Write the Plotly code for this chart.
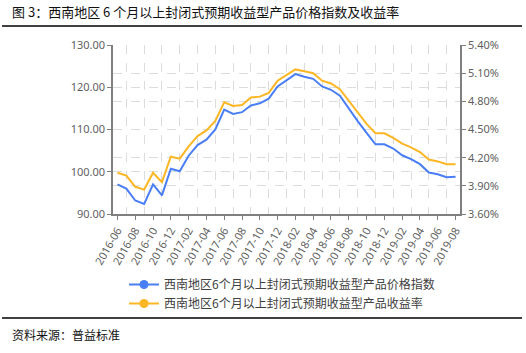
import plotly.graph_objects as go
import pandas as pd

months = [d.strftime("%Y-%m") for d in pd.date_range("2016-06-01", "2019-08-01", freq="MS")]

price_index = [97.0, 96.0, 93.2, 92.4, 97.0, 94.4, 100.7, 100.1, 103.8, 106.3,
               107.6, 110.0, 114.7, 113.7, 114.1, 115.7, 116.2, 117.3, 120.2, 121.6,
               123.1, 122.5, 122.0, 120.2, 119.4, 118.0, 114.9, 112.0, 109.2, 106.5,
               106.5, 105.5, 103.9, 103.0, 101.8, 99.8, 99.4, 98.7, 98.8]
yield_rate = [4.04, 4.01, 3.89, 3.86, 4.04, 3.94, 4.21, 4.19, 4.32, 4.43,
              4.49, 4.59, 4.79, 4.75, 4.76, 4.84, 4.85, 4.89, 5.02, 5.08,
              5.14, 5.12, 5.10, 5.02, 4.99, 4.93, 4.81, 4.68, 4.56, 4.46,
              4.46, 4.41, 4.35, 4.31, 4.26, 4.18, 4.16, 4.13, 4.13]

name_index = "西南地区6个月以上封闭式预期收益型产品价格指数"
name_yield = "西南地区6个月以上封闭式预期收益型产品收益率"
title_text = "图 3：西南地区 6 个月以上封闭式预期收益型产品价格指数及收益率"
source_text = "资料来源：普益标准"

BLUE = "#4a7ef4"
ORANGE = "#fdb624"
W, H = 526, 353
L, R, T, B = 113, 66, 45, 139
PW, PH = W - L - R, H - T - B

def px(x):
    return (x - L) / PW

def py(y):
    return (H - B - y) / PH

xi = list(range(len(months)))
tick_idx = xi[::2]

fig = go.Figure()
fig.add_trace(go.Scatter(x=xi, y=price_index, mode="lines", name=name_index,
                         line=dict(color=BLUE, width=2), showlegend=False, yaxis="y"))
fig.add_trace(go.Scatter(x=xi, y=yield_rate, mode="lines", name=name_yield,
                         line=dict(color=ORANGE, width=2), showlegend=False, yaxis="y2"))
# legend entries
fig.add_trace(go.Scatter(x=[None], y=[None], mode="lines+markers", name=name_index,
                         line=dict(color=BLUE, width=2), marker=dict(size=9, color=BLUE)))
fig.add_trace(go.Scatter(x=[None], y=[None], mode="lines+markers", name=name_yield,
                         line=dict(color=ORANGE, width=2), marker=dict(size=9, color=ORANGE)))

grid = dict(gridcolor="#dcdcdc", griddash="dash", gridwidth=1)
axis_font = dict(family="Noto Sans, Open Sans, sans-serif", size=11, color="#5f5f5f")

fig.update_layout(
    width=W, height=H,
    margin=dict(l=L, r=R, t=T, b=B),
    paper_bgcolor="white", plot_bgcolor="white",
    xaxis=dict(range=[-0.5, len(months) - 0.5], tickvals=tick_idx,
               ticktext=[months[i] for i in tick_idx], tickangle=-60,
               tickfont=axis_font, showgrid=False, zeroline=False,
               showline=True, linecolor="#7f7f7f", linewidth=1.5,
               ticks="outside", ticklen=4, tickcolor="#7f7f7f",
               minor=dict(tick0=1, dtick=2, showgrid=True, ticks="", **grid)),
    yaxis=dict(range=[90, 130], dtick=10, tickformat=".2f", tickfont=axis_font,
               showgrid=True, **grid, zeroline=False,
               showline=True, linecolor="#7f7f7f", linewidth=1.5,
               ticks="outside", ticklen=4, tickcolor="#7f7f7f"),
    yaxis2=dict(range=[3.6, 5.4], tick0=3.6, dtick=0.3, tickformat=".2f", ticksuffix="%",
                tickfont=axis_font, overlaying="y", side="right",
                showgrid=True, **grid, zeroline=False,
                showline=True, linecolor="#7f7f7f", linewidth=1.5,
                ticks="outside", ticklen=4, tickcolor="#7f7f7f"),
    legend=dict(x=px(124), y=py(270), xanchor="left", yanchor="top",
                font=dict(family="Noto Sans CJK SC", size=12, color="#404040"),
                bgcolor="rgba(0,0,0,0)", tracegroupgap=0, itemwidth=30),
    showlegend=True,
    font=dict(family="Noto Sans CJK SC"),
)

fig.add_annotation(text=title_text, x=px(10), y=py(11), xref="paper", yref="paper",
                   xanchor="left", yanchor="middle", showarrow=False,
                   font=dict(family="Noto Sans CJK SC", size=13, color="#111111"))
fig.add_annotation(text=source_text, x=px(10), y=py(334), xref="paper", yref="paper",
                   xanchor="left", yanchor="middle", showarrow=False,
                   font=dict(family="Noto Sans CJK SC", size=12, color="#111111"))
fig.add_shape(type="line", xref="paper", yref="paper", x0=px(2), x1=px(522),
              y0=py(26), y1=py(26), line=dict(color="black", width=1.5))
fig.add_shape(type="line", xref="paper", yref="paper", x0=px(2), x1=px(522),
              y0=py(318), y1=py(318), line=dict(color="black", width=1.5))

fig.write_html("out.html")
